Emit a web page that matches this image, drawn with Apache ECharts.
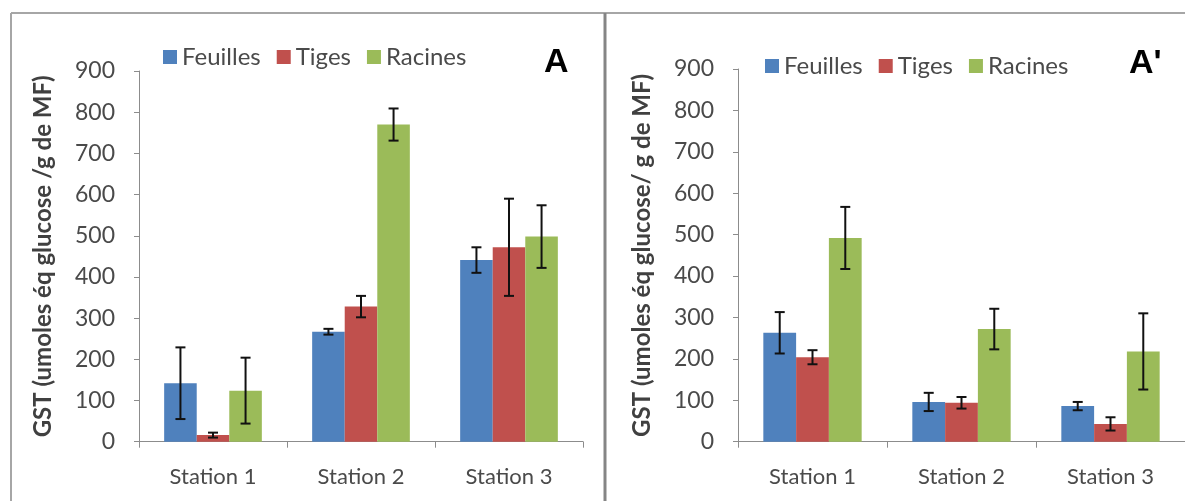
<!DOCTYPE html>
<html>
<head>
<meta charset="utf-8">
<script src="https://cdn.jsdelivr.net/npm/echarts@6/dist/echarts.min.js"></script>
<style>
html,body{margin:0;padding:0;background:#fff;}
#chart{width:1185px;height:501px;}
</style>
</head>
<body>
<div id="chart"></div>
<script>
// ---- Data ----
const categories = ['Station 1', 'Station 2', 'Station 3'];
const seriesNames = ['Feuilles', 'Tiges', 'Racines'];
const yTicks = [0, 100, 200, 300, 400, 500, 600, 700, 800, 900];

// Panel A
const A_feuilles = [142, 267, 441];
const A_feuilles_err = [87, 7, 31];
const A_tiges = [16, 328, 472];
const A_tiges_err = [6, 26, 118];
const A_racines = [124, 770, 498];
const A_racines_err = [80, 39, 76];

// Panel A'
const B_feuilles = [263, 96, 86];
const B_feuilles_err = [50, 22, 10];
const B_tiges = [204, 94, 43];
const B_tiges_err = [17, 14, 16];
const B_racines = [492, 272, 218];
const B_racines_err = [75, 49, 92];

// ---- Styles ----
const colors = ['#4F81BD', '#C0504D', '#9BBB59'];
const FONT = 'Lato';
const GAP = 0.34;
const axisGrey = '#8c8c8c';
const textGrey = '#4a4a4a';

function errData(vals, errs) {
  return vals.map((v, i) => [i, v - errs[i], v + errs[i]]);
}

function errSeries(k, vals, errs, idx) {
  return {
    type: 'custom',
    xAxisIndex: idx, yAxisIndex: idx,
    z: 10,
    silent: true,
    data: errData(vals, errs),
    renderItem: function (params, api) {
      const cat = api.value(0);
      const lo = api.coord([cat, api.value(1)]);
      const hi = api.coord([cat, api.value(2)]);
      const catW = api.size([1, 0])[0];
      const barW = catW * (1 - GAP) / 3;
      const x = lo[0] + (k - 1) * barW;
      const cap = 5;
      const st = { stroke: '#111', lineWidth: 2 };
      return {
        type: 'group',
        children: [
          { type: 'line', shape: { x1: x, y1: lo[1], x2: x, y2: hi[1] }, style: st },
          { type: 'line', shape: { x1: x - cap, y1: hi[1], x2: x + cap, y2: hi[1] }, style: st },
          { type: 'line', shape: { x1: x - cap, y1: lo[1], x2: x + cap, y2: lo[1] }, style: st }
        ]
      };
    }
  };
}

function barSeries(k, vals, idx) {
  return {
    name: seriesNames[k],
    type: 'bar',
    xAxisIndex: idx, yAxisIndex: idx,
    barCategoryGap: (GAP * 100) + '%',
    barGap: '0%',
    itemStyle: { color: colors[k] },
    data: vals
  };
}

function xAxis(idx) {
  return {
    type: 'category', gridIndex: idx, data: categories,
    axisLine: { lineStyle: { color: axisGrey, width: 1 } },
    axisTick: { show: true, length: 6, interval: 0, lineStyle: { color: axisGrey } },
    axisLabel: { color: textGrey, fontFamily: FONT, fontSize: 22, margin: 24, interval: 0 }
  };
}

function yAxis(idx, name) {
  return {
    type: 'value', gridIndex: idx, min: yTicks[0], max: yTicks[yTicks.length - 1],
    interval: yTicks[1] - yTicks[0],
    name: name, nameLocation: 'middle', nameGap: 84, nameRotate: 90,
    nameTextStyle: { color: '#404040', fontFamily: FONT, fontSize: 24, fontWeight: 'bold' },
    axisLine: { show: true, lineStyle: { color: axisGrey, width: 1 } },
    axisTick: { show: true, length: 5, lineStyle: { color: axisGrey } },
    splitLine: { show: false },
    axisLabel: { color: textGrey, fontFamily: FONT, fontSize: 23, margin: 24 }
  };
}

function legend(idx, left, top) {
  return {
    data: seriesNames, left: left, top: top, padding: 0,
    itemWidth: 14, itemHeight: 14, itemGap: 16, icon: 'rect',
    selectedMode: false,
    textStyle: { color: textGrey, fontFamily: FONT, fontSize: 24 }
  };
}

const chart = echarts.init(document.getElementById('chart'), null, { renderer: 'canvas' });
chart.setOption({
  backgroundColor: '#ffffff',
  animation: false,
  legend: [legend(0, 163, 45), legend(1, 765, 54)],
  grid: [
    { left: 139, top: 71, width: 444, height: 370.7 },
    { left: 738, top: 69, width: 456, height: 372.7 }
  ],
  xAxis: [xAxis(0), xAxis(1)],
  yAxis: [yAxis(0, 'GST (umoles éq glucose /g de MF)'), yAxis(1, 'GST (umoles éq glucose/ g de MF)')],
  series: [
    barSeries(0, A_feuilles, 0), barSeries(1, A_tiges, 0), barSeries(2, A_racines, 0),
    barSeries(0, B_feuilles, 1), barSeries(1, B_tiges, 1), barSeries(2, B_racines, 1),
    errSeries(0, A_feuilles, A_feuilles_err, 0), errSeries(1, A_tiges, A_tiges_err, 0), errSeries(2, A_racines, A_racines_err, 0),
    errSeries(0, B_feuilles, B_feuilles_err, 1), errSeries(1, B_tiges, B_tiges_err, 1), errSeries(2, B_racines, B_racines_err, 1)
  ],
  graphic: [
    { type: 'line', shape: { x1: 11, y1: 13, x2: 1185, y2: 13 }, style: { stroke: '#a6a6a6', lineWidth: 2 } },
    { type: 'line', shape: { x1: 11, y1: 13, x2: 11, y2: 501 }, style: { stroke: '#a6a6a6', lineWidth: 2 } },
    { type: 'line', shape: { x1: 605, y1: 13, x2: 605, y2: 501 }, style: { stroke: '#858585', lineWidth: 3 } },
    { type: 'text', left: 544, top: 46, style: { text: 'A', font: 'bold 34px "Liberation Sans", Arial', fill: '#000' } },
    { type: 'text', left: 1129, top: 47, style: { text: "A'", font: 'bold 34px "Liberation Sans", Arial', fill: '#000' } }
  ]
});
</script>
</body>
</html>
